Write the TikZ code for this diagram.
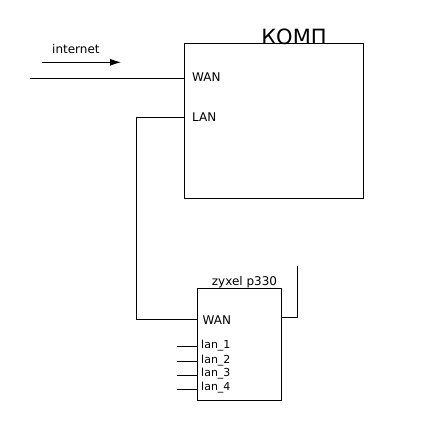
\documentclass[tikz,border=0pt]{standalone}
\usepackage{fontspec}
\setmainfont{DejaVu Sans}
\usetikzlibrary{shapes,arrows,arrows.meta,calc}
\tikzstyle{line} = [draw, line width=0.8pt]
\tikzstyle{block} = [draw, line width=0.8pt, rectangle, inner sep=0pt]
\tikzstyle{port} = [inner sep=0pt, font=\fontsize{12pt}{12pt}\selectfont]
\tikzstyle{lanport} = [inner sep=0pt, anchor=base west, font=\fontsize{11pt}{11pt}\selectfont]

\begin{document}
\begin{tikzpicture}[x=1pt, y=-1pt]
        \useasboundingbox (0,0) rectangle (426,426);
        % computer
        \node[block, minimum width=179pt, minimum height=155pt] (komp) at (273.5,120.5) {};
        \node[anchor=base, inner sep=0pt, font=\fontsize{21pt}{21pt}\selectfont] (komptitle) at (294,44) {КОМП};
        \node[port, anchor=west] (kwan) at (192,77) {WAN};
        \node[port, anchor=west] (klan) at (192,117) {LAN};
        % router
        \node[block, minimum width=84pt, minimum height=112pt] (zyxel) at (239.7,344.2) {};
        \node[anchor=base, inner sep=0pt, font=\fontsize{12pt}{12pt}\selectfont] (zyxeltitle) at (244.5,285) {zyxel p330};
        \node[port, anchor=west] (zwan) at (202.5,320.5) {WAN};
        \node[lanport] (lan1) at (201,348.7) {lan\_1};
        \node[lanport] (lan2) at (201,363) {lan\_2};
        \node[lanport] (lan3) at (201,376.8) {lan\_3};
        \node[lanport] (lan4) at (201,390.7) {lan\_4};
        % internet
        \node[anchor=base west, inner sep=0pt, font=\fontsize{12pt}{12pt}\selectfont] (inet) at (52,53) {internet};
        \coordinate (inetfrom) at (42,62.3);
        \coordinate (inetto) at (121,62.3);
        \coordinate (wire) at (29.5,78);
        \coordinate (bend) at (136.5,117);
        \coordinate (up) at (297.3,266);
        \path[line, -{Latex[length=11pt,width=7pt]}] (inetfrom) -- (inetto);
        \path[line] (wire) -- (wire -| komp.west);
        \path[line] (klan -| komp.west) -- (bend) -- (bend |- 0,319.3) -- (zyxel.west |- 0,319.3);
        \path[line] (zyxel.east |- 0,317.3) -- (up |- 0,317.3) -- (up);
        \foreach \n/\y in {1/345.9,2/361,3/375,4/389.3} {
            \coordinate (cable\n) at (176.7,\y);
            \path[line] (cable\n) -- (cable\n -| zyxel.west);
        }
    \end{tikzpicture}
\end{document}
